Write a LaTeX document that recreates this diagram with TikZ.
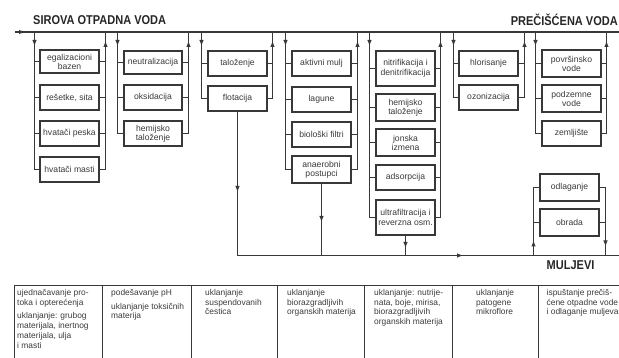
\documentclass[tikz,border=0pt]{standalone}
\usepackage{fontspec}
\setmainfont{Liberation Sans}
\newfontfamily\titlefont[FakeStretch=0.86]{Liberation Sans}
\usetikzlibrary{arrows.meta,calc}
\definecolor{ink}{HTML}{383838}
\definecolor{txt}{HTML}{3A3A3A}
\begin{document}
\begin{tikzpicture}[x=1pt,y=-1pt,
  box/.style={draw=ink, line width=2pt, fill=white, text=txt,
    font=\fontsize{8.6}{10.5}\selectfont, align=center, inner sep=1pt,
    minimum width=59pt, minimum height=25pt},
  ln/.style={draw=ink, line width=1pt},
  bus/.style={draw=ink, line width=2pt},
  arr/.style={-{Latex[length=6pt,width=4.5pt]}, draw=ink, line width=1pt},
  title/.style={font=\titlefont\bfseries\fontsize{12.8}{14}\selectfont, text=black!85, inner sep=0pt, anchor=west},
  cell/.style={anchor=north west, inner sep=0pt, align=left, text=txt,
    font=\fontsize{8.4}{9.8}\selectfont},
]
\useasboundingbox (0,0) rectangle (619,358);

% titles
\node[title] (t1) at (33,20) {SIROVA OTPADNA VODA};
\node[title, anchor=east] (t2) at (618,20) {PREČIŠĆENA VODA};
\node[title] (t3) at (546.5,265.5) {MULJEVI};

% main line
\coordinate (start) at (15,32);
\coordinate (end) at (619,32);
\draw[bus] (start) -- (end);
\draw[arr] (start) -- ++(10,0);

% column 1
\node[box, minimum height=23pt] (a1) at (69.5,61.5) {egalizacioni\\[-1.5pt]bazen};
\node[box] (a2) at (69.5,97.5) {rešetke, sita};
\node[box] (a3) at (69.5,133.5) {hvatači peska};
\node[box] (a4) at (69.5,169.5) {hvatači masti};
% column 2
\node[box, minimum width=58pt, minimum height=23pt] (b1) at (153,62.5) {neutralizacija};
\node[box, minimum width=58pt] (b2) at (153,97.5) {oksidacija};
\node[box, minimum width=58pt] (b3) at (153,133.5) {hemijsko\\[-1.5pt]taloženje};
% column 3
\node[box] (c1) at (237.5,63.5) {taloženje};
\node[box] (c2) at (237.5,98.5) {flotacija};
% column 4
\node[box] (d1) at (321.5,63.5) {aktivni mulj};
\node[box] (d2) at (321.5,99.5) {lagune};
\node[box] (d3) at (321.5,134.5) {biološki filtri};
\node[box, minimum height=27pt] (d4) at (321.5,169.5) {anaerobni\\[-1.5pt]postupci};
% column 5
\node[box, minimum height=35pt] (e1) at (405.5,68.5) {nitrifikacija i\\denitrifikacija};
\node[box, minimum height=27pt] (e2) at (405.5,107.5) {hemijsko\\[-1.5pt]taloženje};
\node[box, minimum height=27pt] (e3) at (405.5,142.5) {jonska\\[-1.5pt]izmena};
\node[box] (e4) at (405.5,177.5) {adsorpcija};
\node[box, minimum height=35pt] (e5) at (405.5,217.5) {ultrafiltracija i\\reverzna osm.};
% column 6
\node[box] (f1) at (488.5,63.5) {hlorisanje};
\node[box] (f2) at (488.5,97.5) {ozonizacija};
% column 7
\node[box, minimum height=27pt] (g1) at (571.5,63.5) {površinsko\\[-1.5pt]vode};
\node[box, minimum height=27pt] (g2) at (571.5,98.5) {podzemne\\[-1.5pt]vode};
\node[box] (g3) at (571.5,133.5) {zemljište};
% sludge boxes
\node[box, minimum height=27pt] (h1) at (569.5,187.5) {odlaganje};
\node[box, minimum height=27pt] (h2) at (569.5,222.5) {obrada};

% bus taps
\coordinate (L1) at (34.5,32);  \coordinate (R1) at (105.5,32);
\coordinate (L2) at (117.5,32); \coordinate (R2) at (188.5,32);
\coordinate (L3) at (201.5,32); \coordinate (R3) at (272.5,32);
\coordinate (L4) at (285.5,32); \coordinate (R4) at (357.5,32);
\coordinate (L5) at (369.5,32); \coordinate (R5) at (440.5,32);
\coordinate (L6) at (453.5,32); \coordinate (R6) at (524.5,32);
\coordinate (L7) at (535.5,32); \coordinate (R7) at (606.5,32);

\foreach \L/\R/\last/\others in {L1/R1/a4/{a1,a2,a3}, L2/R2/b3/{b1,b2}, L3/R3/c2/{c1},
    L4/R4/d4/{d1,d2,d3}, L5/R5/e5/{e1,e2,e3,e4}, L6/R6/f2/{f1}, L7/R7/g3/{g1,g2}}{
  \draw[ln] (\L) |- (\last.west);
  \draw[ln] (\R) |- (\last.east);
  \foreach \n in \others {
    \draw[ln] (\n.west) -- (\n.west -| \L);
    \draw[ln] (\n.east) -- (\n.east -| \R);
  }
  \draw[arr] ($(\L)+(0,6)$) -- ++(0,8);
  \draw[arr] ($(\R)+(0,17)$) -- ++(0,-8);
}

% sludge line
\coordinate (sl) at (619,255.5);
\coordinate (slarrow) at (463,255.5);
\draw[ln] (c2.south) |- (sl);
\draw[ln] (d4.south) -- (d4.south |- sl);
\draw[ln] (e5.south) -- (e5.south |- sl);
\draw[arr] ($(c2.south)+(0,72)$) -- ++(0,8);
\draw[arr] ($(d4.south)+(0,30)$) -- ++(0,8);
\draw[arr] ($(e5.south)+(0,4)$) -- ++(0,8);
\draw[arr] ($(slarrow)+(-10,0)$) -- (slarrow);

% sludge treatment
\coordinate (SL) at (533.5,255.5);
\coordinate (SR) at (605.5,255.5);
\draw[ln] (SL) |- (h1.west);
\draw[ln] (h2.west) -- (h2.west -| SL);
\draw[ln] (h1.east) -| (SR);
\draw[ln] (h2.east) -- (h2.east -| SR);
\draw[arr] ($(SL)+(0,-6)$) -- ++(0,-9);
\draw[arr] ($(SR)+(0,-17)$) -- ++(0,8);

% table
\coordinate (T0) at (14,285.5);
\coordinate (T1) at (619,285.5);
\draw[ln] (T0) -- (T1);
\foreach \x in {14.5,102.5,191.5,277.5,364.5,452.5,538.5}
  \draw[ln] (\x,285.5) -- (\x,358);

\node[cell] (k1) at (17,289) {ujednačavanje pro-\\toka i opterećenja\\[4pt]uklanjanje: grubog\\materijala, inertnog\\materijala, ulja\\i masti};
\node[cell] (k2) at (111,289) {podešavanje pH\\[4pt]uklanjanje toksičnih\\materija};
\node[cell] (k3) at (205,289) {uklanjanje\\suspendovanih\\čestica};
\node[cell] (k4) at (287,289) {uklanjanje\\biorazgradljivih\\organskih materija};
\node[cell] (k5) at (374,289) {uklanjanje: nutrije-\\nata, boje, mirisa,\\biorazgradljivih\\organskih materija};
\node[cell] (k6) at (476,289) {uklanjanje\\patogene\\mikroflore};
\node[cell] (k7) at (546.5,289) {ispuštanje prečiš-\\ćene otpadne vode\\i odlaganje muljeva};
\end{tikzpicture}
\end{document}
